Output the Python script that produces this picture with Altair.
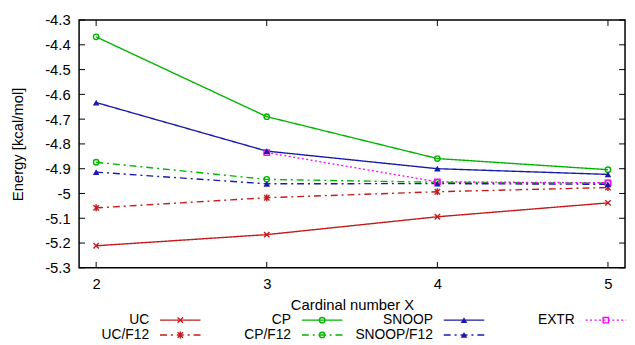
import altair as alt
import pandas as pd

# ---- data ----
x_vals = [2, 3, 4, 5]
uc = [-5.211, -5.166, -5.094, -5.038]
uc_f12 = [-5.058, -5.017, -4.993, -4.976]
cp = [-4.368, -4.690, -4.859, -4.904]
cp_f12 = [-4.874, -4.943, -4.955, -4.958]
snoop = [-4.633, -4.829, -4.900, -4.923]
snoop_f12 = [-4.914, -4.961, -4.960, -4.963]
extr_x = [3, 4, 5]
extr = [-4.835, -4.953, -4.957]

series_names = ["UC", "UC/F12", "CP", "CP/F12", "SNOOP", "SNOOP/F12", "EXTR"]
y_ticks = [-4.3, -4.4, -4.5, -4.6, -4.7, -4.8, -4.9, -5.0, -5.1, -5.2, -5.3]
x_ticks = [2, 3, 4, 5]

# ---- styles ----
RED, GREEN, BLUE, MAG = "#c41a1a", "#00b400", "#1a1aaa", "#ff00ff"
colors = [RED, RED, GREEN, GREEN, BLUE, BLUE, MAG]
DD = [7, 4, 2, 4]
dashes = [[1, 0], DD, [1, 0], DD, [1, 0], DD, [2, 2.5]]
X_PATH = "M-1,-1L1,1M-1,1L1,-1"
AST_PATH = "M-1,-1L1,1M-1,1L1,-1M0,-1.3L0,1.3"
shapes = [X_PATH, AST_PATH, "circle", "circle", "triangle-up", "triangle-up", "square"]
FONT = "Liberation Sans"
FS = 15
LFS = 14

W, H = 553, 251

series_data = {
    "UC": (x_vals, uc), "UC/F12": (x_vals, uc_f12),
    "CP": (x_vals, cp), "CP/F12": (x_vals, cp_f12),
    "SNOOP": (x_vals, snoop), "SNOOP/F12": (x_vals, snoop_f12),
    "EXTR": (extr_x, extr),
}
rows = []
for name in series_names:
    xs, ys = series_data[name]
    for xv, yv in zip(xs, ys):
        rows.append({"series": name, "x": xv, "y": yv})
df = pd.DataFrame(rows)

# legend layout: columns by base method, rows by F12 variant
legend_rows = []
for i, name in enumerate(series_names):
    col = [0, 0, 1, 1, 2, 2, 3][i]
    row = 1 if name.endswith("F12") else 0
    lab_r = 71 + col * 143.7
    legend_rows.append({"series": name, "lx": lab_r, "ls0": lab_r + 11,
                        "ls1": lab_r + 52, "lm": lab_r + 31.5,
                        "ly": 304 + row * 15})
ldf = pd.DataFrame(legend_rows)

color_s = alt.Color("series:N", scale=alt.Scale(domain=series_names, range=colors), legend=None)
dash_s = alt.StrokeDash("series:N", scale=alt.Scale(domain=series_names, range=dashes), legend=None)
shape_s = alt.Shape("series:N", scale=alt.Scale(domain=series_names, range=shapes), legend=None)

x_scale = alt.Scale(domain=[1.9, 5.1], nice=False, zero=False)
y_scale = alt.Scale(domain=[-5.3, -4.3], nice=False, zero=False)
x_axis = alt.Axis(values=x_ticks, format="d", ticks=False, tickSize=0, domain=False,
                  grid=False, labelPadding=9, labelOverlap=False, labelFlush=False,
                  labelFont=FONT, labelFontSize=FS, labelColor="black",
                  title="Cardinal number X", titleFont=FONT, titleFontSize=FS,
                  titleColor="black", titleX=W / 2, titleY=37, titleBaseline="middle",
                  titleFontWeight="normal")
y_axis = alt.Axis(values=y_ticks, ticks=False, tickSize=0, domain=False, grid=False,
                  labelPadding=9, labelOverlap=False, labelFlush=False,
                  labelFont=FONT, labelFontSize=FS, labelColor="black",
                  labelExpr="replace(format(datum.value, '.1~f'), '\u2212', '-')",
                  title="Energy [kcal/mol]", titleFont=FONT, titleFontSize=FS,
                  titleColor="black", titleX=-62, titleY=H / 2,
                  titleAngle=270, titleAlign="center", titleBaseline="middle",
                  titleFontWeight="normal")


def X(f):
    return alt.X(f, scale=x_scale, axis=x_axis)


def Y(f):
    return alt.Y(f, scale=y_scale, axis=y_axis)


base = alt.Chart(df)
lines = base.mark_line(strokeWidth=1.4).encode(x=X("x:Q"), y=Y("y:Q"), color=color_s,
                                               strokeDash=dash_s, detail="series:N")
pts_open = base.transform_filter(
    "indexof(['SNOOP','SNOOP/F12'], datum.series) < 0").mark_point(
    filled=False, size=30, strokeWidth=1.4, opacity=1).encode(
    x=X("x:Q"), y=Y("y:Q"), color=color_s, shape=shape_s)
pts_fill = base.transform_filter(
    "indexof(['SNOOP','SNOOP/F12'], datum.series) >= 0").mark_point(
    filled=True, size=45, opacity=1).encode(
    x=X("x:Q"), y=Y("y:Q"), color=color_s, shape=shape_s)

# inward ticks on all four sides
ytk = pd.DataFrame({"y": y_ticks})
xtk = pd.DataFrame({"x": x_ticks})
tl = alt.Chart(ytk).mark_rule(color="black", strokeWidth=1).encode(
    y=Y("y:Q"), x=alt.value(0), x2=alt.value(6))
tr = alt.Chart(ytk).mark_rule(color="black", strokeWidth=1).encode(
    y=Y("y:Q"), x=alt.value(W - 6), x2=alt.value(W))
tb = alt.Chart(xtk).mark_rule(color="black", strokeWidth=1).encode(
    x=X("x:Q"), y=alt.value(H), y2=alt.value(H - 6))
tt = alt.Chart(xtk).mark_rule(color="black", strokeWidth=1).encode(
    x=X("x:Q"), y=alt.value(0), y2=alt.value(6))

# manual legend (label left of sample)
lg = alt.Chart(ldf)
lg_text = lg.mark_text(align="right", baseline="middle", font=FONT, fontSize=LFS,
                       color="black").encode(
    x=alt.X("lx:Q", scale=None), y=alt.Y("ly:Q", scale=None), text="series:N")
lg_line = lg.mark_rule(strokeWidth=1.4).encode(
    x=alt.X("ls0:Q", scale=None), x2="ls1:Q", y=alt.Y("ly:Q", scale=None),
    color=color_s, strokeDash=dash_s)
lg_open = lg.transform_filter(
    "indexof(['SNOOP','SNOOP/F12'], datum.series) < 0").mark_point(
    filled=False, size=30, strokeWidth=1.4, opacity=1).encode(
    x=alt.X("lm:Q", scale=None), y=alt.Y("ly:Q", scale=None), color=color_s, shape=shape_s)
lg_fill = lg.transform_filter(
    "indexof(['SNOOP','SNOOP/F12'], datum.series) >= 0").mark_point(
    filled=True, size=45, opacity=1).encode(
    x=alt.X("lm:Q", scale=None), y=alt.Y("ly:Q", scale=None), color=color_s, shape=shape_s)

chart = alt.layer(lines, pts_open, pts_fill, tl, tr, tb, tt,
                  lg_text, lg_line, lg_open, lg_fill).properties(
    width=W, height=H,
    background="white",
    autosize=alt.AutoSizeParams(type="none"),
    padding={"left": 72, "top": 10, "right": 2, "bottom": 76},
).configure_view(stroke="black", strokeWidth=1.5)

chart.save("out.html", embed_options={"renderer": "svg", "actions": False})
